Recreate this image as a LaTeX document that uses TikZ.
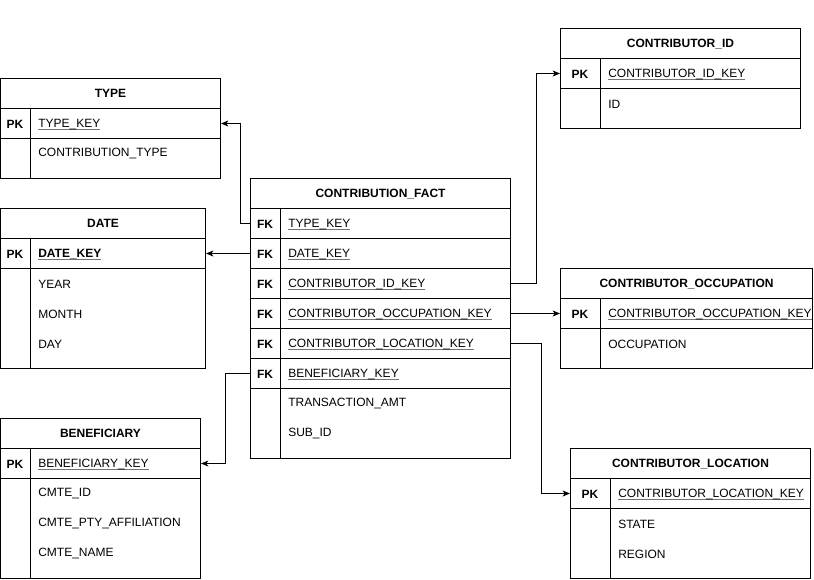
\documentclass[tikz,border=0pt]{standalone}
\usepackage{fontspec}
\setmainfont{Liberation Sans}
\usetikzlibrary{arrows.meta}
\newcommand\ukey[1]{\setbox0\hbox{#1}\rlap{\color{black!55}\rule[-1.6pt]{\wd0}{0.6pt}}\box0}
\begin{document}
\begin{tikzpicture}[x=0.75pt,y=-0.75pt,
  ln/.style={draw=black, line width=0.75pt},
  cell/.style={ln, rectangle, anchor=north west, inner sep=0pt, minimum height=22.5pt},
  hdr/.style={cell, font=\bfseries\fontsize{9}{11}\selectfont, text depth=0.6pt},
  fld/.style={font=\fontsize{9}{11}\selectfont, anchor=west, inner sep=0pt, yshift=-0.7pt},
  keyl/.style={font=\bfseries\fontsize{9}{11}\selectfont, inner sep=0pt, yshift=-0.7pt},
  fk/.style={ln, -{Stealth[length=5.5pt,width=4.5pt,inset=1.5pt]}}]
\useasboundingbox (0,0) rectangle (814,579);

% TYPE
\node[hdr, minimum width=165pt] (type-h) at (0,78) {TYPE};
\node[cell, minimum width=165pt] (type-pk) at (0,108) {};
\node[cell, minimum width=165pt, minimum height=30pt] (type-rest) at (0,138) {};
\draw[ln] ([xshift=22.5pt]type-pk.north west) -- ([xshift=22.5pt]type-rest.south west);
\node[keyl] (type-pkl) at ([xshift=11.25pt]type-pk.west) {PK};
\node[fld] (type-k) at ([xshift=28.5pt]type-pk.west) {\ukey{TYPE\_KEY}};
\node[fld] (type-f1) at ([xshift=28.5pt,yshift=-11.25pt]type-rest.north west) {CONTRIBUTION\_TYPE};

% DATE
\node[hdr, minimum width=153.75pt] (date-h) at (0,208) {DATE};
\node[cell, minimum width=153.75pt] (date-pk) at (0,238) {};
\node[cell, minimum width=153.75pt, minimum height=75pt] (date-rest) at (0,268) {};
\draw[ln] ([xshift=22.5pt]date-pk.north west) -- ([xshift=22.5pt]date-rest.south west);
\node[keyl] (date-pkl) at ([xshift=11.25pt]date-pk.west) {PK};
\node[fld] (date-k) at ([xshift=28.5pt]date-pk.west) {\ukey{\textbf{DATE\_KEY}}};
\node[fld] (date-f1) at ([xshift=28.5pt,yshift=-11.25pt]date-rest.north west) {YEAR};
\node[fld] (date-f2) at ([xshift=28.5pt,yshift=-33.75pt]date-rest.north west) {MONTH};
\node[fld] (date-f3) at ([xshift=28.5pt,yshift=-56.25pt]date-rest.north west) {DAY};

% BENEFICIARY
\node[hdr, minimum width=150pt] (ben-h) at (0,418) {BENEFICIARY};
\node[cell, minimum width=150pt] (ben-pk) at (0,448) {};
\node[cell, minimum width=150pt, minimum height=75pt] (ben-rest) at (0,478) {};
\draw[ln] ([xshift=22.5pt]ben-pk.north west) -- ([xshift=22.5pt]ben-rest.south west);
\node[keyl] (ben-pkl) at ([xshift=11.25pt]ben-pk.west) {PK};
\node[fld] (ben-k) at ([xshift=28.5pt]ben-pk.west) {\ukey{BENEFICIARY\_KEY}};
\node[fld] (ben-f1) at ([xshift=28.5pt,yshift=-11.25pt]ben-rest.north west) {CMTE\_ID};
\node[fld] (ben-f2) at ([xshift=28.5pt,yshift=-33.75pt]ben-rest.north west) {CMTE\_PTY\_AFFILIATION};
\node[fld] (ben-f3) at ([xshift=28.5pt,yshift=-56.25pt]ben-rest.north west) {CMTE\_NAME};

% CONTRIBUTION_FACT
\node[hdr, minimum width=195pt] (fact-h) at (250,178) {CONTRIBUTION\_FACT};
\node[cell, minimum width=195pt] (fact-type) at (250,208) {};
\node[cell, minimum width=195pt] (fact-date) at (250,238) {};
\node[cell, minimum width=195pt] (fact-cid) at (250,268) {};
\node[cell, minimum width=195pt] (fact-occ) at (250,298) {};
\node[cell, minimum width=195pt] (fact-loc) at (250,328) {};
\node[cell, minimum width=195pt] (fact-ben) at (250,358) {};
\node[cell, minimum width=195pt, minimum height=52.5pt] (fact-rest) at (250,388) {};
\draw[ln] ([xshift=22.5pt]fact-type.north west) -- ([xshift=22.5pt]fact-rest.south west);
\foreach \r/\t in {type/TYPE\_KEY, date/DATE\_KEY, cid/CONTRIBUTOR\_ID\_KEY, occ/CONTRIBUTOR\_OCCUPATION\_KEY, loc/CONTRIBUTOR\_LOCATION\_KEY, ben/BENEFICIARY\_KEY}{
  \node[keyl] (fact-\r-l) at ([xshift=11.25pt]fact-\r.west) {FK};
  \node[fld] (fact-\r-t) at ([xshift=28.5pt]fact-\r.west) {\ukey{\t}};
}
\node[fld] (fact-f1) at ([xshift=28.5pt,yshift=-11.25pt]fact-rest.north west) {TRANSACTION\_AMT};
\node[fld] (fact-f2) at ([xshift=28.5pt,yshift=-33.75pt]fact-rest.north west) {SUB\_ID};

% CONTRIBUTOR_ID
\node[hdr, minimum width=180pt] (cid-h) at (560,28) {CONTRIBUTOR\_ID};
\node[cell, minimum width=180pt] (cid-pk) at (560,58) {};
\node[cell, minimum width=180pt, minimum height=30pt] (cid-rest) at (560,88) {};
\draw[ln] ([xshift=30pt]cid-pk.north west) -- ([xshift=30pt]cid-rest.south west);
\node[keyl] (cid-pkl) at ([xshift=15pt]cid-pk.west) {PK};
\node[fld] (cid-k) at ([xshift=36pt]cid-pk.west) {\ukey{CONTRIBUTOR\_ID\_KEY}};
\node[fld] (cid-f1) at ([xshift=36pt,yshift=-11.25pt]cid-rest.north west) {ID};

% CONTRIBUTOR_OCCUPATION
\node[hdr, minimum width=189pt] (occ-h) at (560,268) {CONTRIBUTOR\_OCCUPATION};
\node[cell, minimum width=189pt] (occ-pk) at (560,298) {};
\node[cell, minimum width=189pt, minimum height=30pt] (occ-rest) at (560,328) {};
\draw[ln] ([xshift=30pt]occ-pk.north west) -- ([xshift=30pt]occ-rest.south west);
\node[keyl] (occ-pkl) at ([xshift=15pt]occ-pk.west) {PK};
\node[fld] (occ-k) at ([xshift=36pt]occ-pk.west) {\ukey{CONTRIBUTOR\_OCCUPATION\_KEY}};
\node[fld] (occ-f1) at ([xshift=36pt,yshift=-11.25pt]occ-rest.north west) {OCCUPATION};

% CONTRIBUTOR_LOCATION
\node[hdr, minimum width=180pt] (loc-h) at (570,448) {CONTRIBUTOR\_LOCATION};
\node[cell, minimum width=180pt] (loc-pk) at (570,478) {};
\node[cell, minimum width=180pt, minimum height=52.5pt] (loc-rest) at (570,508) {};
\draw[ln] ([xshift=30pt]loc-pk.north west) -- ([xshift=30pt]loc-rest.south west);
\node[keyl] (loc-pkl) at ([xshift=15pt]loc-pk.west) {PK};
\node[fld] (loc-k) at ([xshift=36pt]loc-pk.west) {\ukey{CONTRIBUTOR\_LOCATION\_KEY}};
\node[fld] (loc-f1) at ([xshift=36pt,yshift=-11.25pt]loc-rest.north west) {STATE};
\node[fld] (loc-f2) at ([xshift=36pt,yshift=-33.75pt]loc-rest.north west) {REGION};

% connectors
\draw[fk] (fact-type.west) -- ++(-10,0) |- (type-pk.east);
\draw[fk] (fact-date.west) -- (date-pk.east);
\draw[fk] (fact-cid.east) -- ++(25,0) |- (cid-pk.west);
\draw[fk] (fact-occ.east) -- (occ-pk.west);
\draw[fk] (fact-loc.east) -- ++(30,0) |- (loc-pk.west);
\draw[fk] (fact-ben.west) -- ++(-25,0) |- (ben-pk.east);
\end{tikzpicture}
\end{document}
